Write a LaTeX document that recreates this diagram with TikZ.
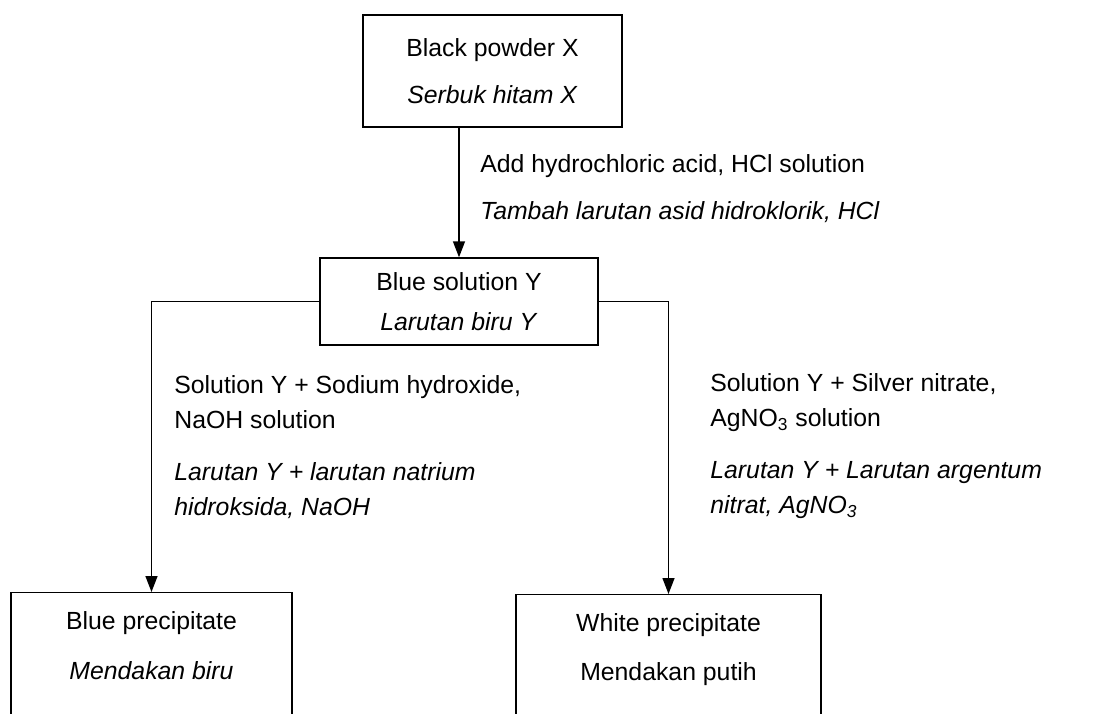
\documentclass[tikz,border=0pt]{standalone}
\usepackage{fontspec}
\setmainfont{Liberation Sans}
\usetikzlibrary{arrows.meta,positioning}

\begin{document}
\begin{tikzpicture}[
    x=0.5pt, y=-0.5pt,
    font=\fontsize{12.4}{17.5}\selectfont,
    box/.style={
        draw=black,
        line width=0.7pt,
        align=center,
        inner sep=0pt
    },
    result/.style={
        box,
        anchor=north,
        inner ysep=9.5pt,
        text depth=40pt
    },
    note/.style={align=left, anchor=north west, inner sep=0pt},
    flow/.style={-{Triangle[length=8pt,width=6pt]}, line width=0.7pt}
]
    \clip (0,0) rectangle (1093,713);

    % starting material and the solution made from it
    \node[box, minimum width=129.5pt, minimum height=56pt] (powderX) at (492.5,71)
        {Black powder X\\[6pt]\textit{Serbuk hitam X}};
    \node[box, minimum width=139pt, minimum height=43.5pt] (blueY) at (459,301.5)
        {Blue solution Y\\[2.5pt]\textit{Larutan biru Y}};

    % the two tests on Y
    \node[result, minimum width=140.5pt] (bluePpt) at (151.5,592)
        {Blue precipitate\\[7.5pt]\textit{Mendakan biru}};
    \node[result, minimum width=152.5pt] (whitePpt) at (668.5,594)
        {White precipitate\\[7pt]Mendakan putih};

    \node[note] (hclNote) at (480,154)
        {Add hydrochloric acid, HCl solution\\[6pt]\textit{Tambah larutan asid hidroklorik, HCl}};
    \node[note] (naohNote) at (174,375)
        {Solution Y + Sodium hydroxide,\\NaOH solution\\[8.5pt]
         \textit{Larutan Y + larutan natrium}\\\textit{hidroksida, NaOH}};
    \node[note] (agNote) at (710,373)
        {Solution Y + Silver nitrate,\\AgNO\textsubscript{3} solution\\[8.5pt]
         \textit{Larutan Y + Larutan argentum}\\\textit{nitrat, AgNO\textsubscript{3}}};

    \draw[flow] (powderX.south -| blueY.north) -- (blueY.north);
    \draw[flow] (blueY.west) -| (bluePpt.north);
    \draw[flow] (blueY.east) -| (whitePpt.north);
\end{tikzpicture}
\end{document}
